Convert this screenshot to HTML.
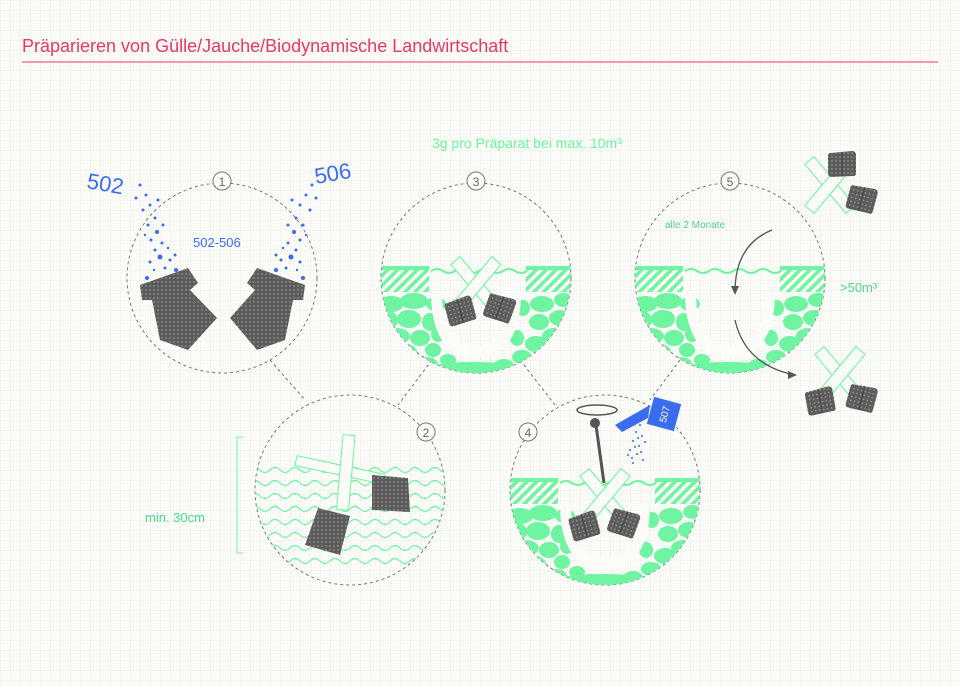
<!DOCTYPE html>
<html><head><meta charset="utf-8"><style>
html,body{margin:0;padding:0;background:#fbfbf7;}
svg{display:block;font-family:"Liberation Sans",sans-serif;}
</style></head><body>
<svg width="960" height="686" viewBox="0 0 960 686" xmlns="http://www.w3.org/2000/svg">
<defs>
<pattern id="grid" width="10" height="10" patternUnits="userSpaceOnUse">
<path d="M10 0H0V10" fill="none" stroke="#ecefe6" stroke-width="1"/>
</pattern>
<pattern id="hatch" width="7" height="7" patternUnits="userSpaceOnUse" patternTransform="rotate(45)">
<rect width="3.5" height="7" fill="#6ff5a2"/>
</pattern>
<pattern id="mesh" width="4" height="4" patternUnits="userSpaceOnUse">
<rect width="4" height="4" fill="#5c5c5c"/><rect x="1.3" y="1.3" width="1.4" height="1.4" fill="#9a9a9a"/>
</pattern>
<clipPath id="cc"><circle cx="0" cy="0" r="95"/></clipPath>
<g id="soil">
<g clip-path="url(#cc)">
<rect x="-95" y="-12" width="48" height="4" fill="#6ff5a2"/>
<rect x="-95" y="-8" width="48" height="22" fill="url(#hatch)"/>
<rect x="50" y="-12" width="45" height="4" fill="#6ff5a2"/>
<rect x="50" y="-8" width="45" height="22" fill="url(#hatch)"/>
<path d="M-45,-7 q6,-4 12,0 t12,0 t12,0 t12,0 t12,0 t12,0 t12,0 t12,0" fill="none" stroke="#6ff5a2" stroke-width="2"/>
<g fill="#6ff5a2">
<ellipse cx="-85" cy="26" rx="13" ry="8"/><ellipse cx="-62" cy="23" rx="14" ry="8"/><ellipse cx="-40" cy="26" rx="10" ry="7"/>
<ellipse cx="-88" cy="42" rx="10" ry="9"/><ellipse cx="-67" cy="41" rx="12" ry="9"/><ellipse cx="-46" cy="44" rx="8" ry="9"/>
<ellipse cx="-80" cy="58" rx="14" ry="8"/><ellipse cx="-56" cy="60" rx="10" ry="8"/><ellipse cx="-70" cy="74" rx="11" ry="8"/>
<ellipse cx="-43" cy="72" rx="8" ry="7"/><ellipse cx="-50" cy="86" rx="12" ry="7"/><ellipse cx="-28" cy="82" rx="8" ry="6"/>
<ellipse cx="-14" cy="90" rx="10" ry="6"/><ellipse cx="8" cy="91" rx="11" ry="6"/><ellipse cx="28" cy="88" rx="10" ry="7"/>
<ellipse cx="46" cy="79" rx="10" ry="7"/><ellipse cx="60" cy="66" rx="11" ry="8"/><ellipse cx="78" cy="58" rx="12" ry="8"/>
<ellipse cx="63" cy="44" rx="10" ry="8"/><ellipse cx="84" cy="40" rx="11" ry="8"/><ellipse cx="66" cy="26" rx="12" ry="8"/>
<ellipse cx="88" cy="22" rx="10" ry="7"/><ellipse cx="47" cy="30" rx="7" ry="8"/><ellipse cx="41" cy="60" rx="7" ry="8"/>
<ellipse cx="-38" cy="56" rx="7" ry="8"/><ellipse cx="-90" cy="72" rx="10" ry="7"/>
</g>
<path d="M-45,14 Q-45,78 0,80 Q45,78 45,14 L34,14 Q34,68 0,68 Q-34,68 -34,14Z" fill="#fbfbf7"/>
<ellipse cx="0" cy="102" rx="75" ry="18" fill="#6ff5a2"/>
</g>
</g>
<g id="stakes" fill="none" stroke="#6ff5a2" stroke-width="1">
<rect x="-6" y="-32" width="12" height="64" transform="rotate(-40)" fill="#fbfbf7"/>
<rect x="-6" y="-32" width="12" height="64" transform="rotate(40)" fill="#fbfbf7"/>
</g>
<g id="bag"><path d="M-12,-10 L10,-12 Q14,-12 14,-8 L14,10 Q14,14 10,13 L-10,14 Q-14,14 -14,10 L-14,-6 Q-14,-10 -12,-10Z" fill="url(#mesh)"/><line x1="0" y1="-11" x2="0" y2="13" stroke="#444" stroke-width="1"/></g>
</defs>
<rect width="960" height="686" fill="url(#grid)"/>

<text x="22" y="52" font-size="18" fill="#e8386a">Präparieren von Gülle/Jauche/Biodynamische Landwirtschaft</text>
<line x1="22" y1="62" x2="938" y2="62" stroke="#e8386a" stroke-width="1"/>
<text x="432" y="148" font-size="14" fill="#6ff5a2">3g pro Präparat bei max. 10m³</text>

<g stroke="#777" stroke-dasharray="3,3" fill="none">
<line x1="270" y1="360" x2="305" y2="400"/>
<line x1="432" y1="360" x2="398" y2="405"/>
<line x1="520" y1="360" x2="555" y2="405"/>
<line x1="680" y1="360" x2="650" y2="400"/>
</g>

<!-- circle 1 -->
<circle cx="222" cy="278" r="95" fill="none" stroke="#777" stroke-dasharray="3,3"/>
<g fill="#3a6cf0">
<text x="86" y="188" font-size="22" transform="rotate(10 86 188)">502</text>
<text x="316" y="184" font-size="22" transform="rotate(-10 316 184)">506</text>
<text x="193" y="247" font-size="13">502-506</text>
<g>
<circle cx="140" cy="185" r="1.5"/><circle cx="146" cy="195" r="1.5"/><circle cx="150" cy="205" r="1.5"/><circle cx="143" cy="210" r="1.5"/><circle cx="155" cy="218" r="1.5"/><circle cx="148" cy="225" r="1.5"/><circle cx="157" cy="232" r="2"/><circle cx="151" cy="240" r="1.5"/><circle cx="162" cy="243" r="1.5"/><circle cx="155" cy="250" r="1.5"/><circle cx="160" cy="257" r="2.5"/><circle cx="170" cy="260" r="1.5"/><circle cx="150" cy="262" r="1.5"/><circle cx="175" cy="255" r="1.5"/><circle cx="165" cy="268" r="1.5"/><circle cx="147" cy="278" r="2"/><circle cx="176" cy="270" r="2"/><circle cx="136" cy="198" r="1.5"/><circle cx="158" cy="200" r="1.5"/><circle cx="163" cy="225" r="1.5"/><circle cx="145" cy="235" r="1.2"/><circle cx="168" cy="248" r="1.2"/><circle cx="154" cy="270" r="1.2"/>
<circle cx="312" cy="185" r="1.5"/><circle cx="306" cy="195" r="1.5"/><circle cx="300" cy="205" r="1.5"/><circle cx="310" cy="210" r="1.5"/><circle cx="296" cy="218" r="1.5"/><circle cx="303" cy="225" r="1.5"/><circle cx="294" cy="232" r="2"/><circle cx="300" cy="240" r="1.5"/><circle cx="288" cy="243" r="1.5"/><circle cx="296" cy="250" r="1.5"/><circle cx="291" cy="257" r="2.5"/><circle cx="281" cy="260" r="1.5"/><circle cx="300" cy="262" r="1.5"/><circle cx="276" cy="255" r="1.5"/><circle cx="286" cy="268" r="1.5"/><circle cx="303" cy="278" r="2"/><circle cx="276" cy="270" r="2"/><circle cx="316" cy="198" r="1.5"/><circle cx="292" cy="200" r="1.5"/><circle cx="288" cy="225" r="1.5"/><circle cx="306" cy="235" r="1.2"/><circle cx="283" cy="248" r="1.2"/><circle cx="297" cy="270" r="1.2"/>
</g></g>
<path d="M140,285 L188,268 L198,283 L190,290 L217,318 L188,350 L160,340 L152,300 L142,300 Z" fill="url(#mesh)"/>
<path d="M305,285 L257,268 L247,283 L255,290 L230,318 L257,350 L285,340 L293,300 L303,300 Z" fill="url(#mesh)"/>
<circle cx="222" cy="181" r="9" fill="#fbfbf7" stroke="#777"/><text x="222" y="186" font-size="12" text-anchor="middle" fill="#666">1</text>

<!-- circle 3 -->
<circle cx="476" cy="278" r="95" fill="none" stroke="#777" stroke-dasharray="3,3"/>
<use href="#soil" x="476" y="278"/>
<use href="#stakes" x="476" y="285"/>
<use href="#bag" x="460" y="310" transform="rotate(-15 460 310)"/>
<use href="#bag" x="500" y="307" transform="rotate(20 500 307)"/>
<circle cx="476" cy="181" r="9" fill="#fbfbf7" stroke="#777"/><text x="476" y="186" font-size="12" text-anchor="middle" fill="#666">3</text>

<!-- circle 5 -->
<circle cx="730" cy="278" r="95" fill="none" stroke="#777" stroke-dasharray="3,3"/>
<use href="#soil" x="730" y="278"/>
<circle cx="730" cy="181" r="9" fill="#fbfbf7" stroke="#777"/><text x="730" y="186" font-size="12" text-anchor="middle" fill="#666">5</text>
<text x="665" y="228" font-size="10" fill="#4fd88a">alle 2 Monate</text>
<text x="840" y="292" font-size="13" fill="#4fd88a">&gt;50m³</text>
<path d="M772,230 Q735,245 735,292" fill="none" stroke="#555" stroke-width="1.3"/><path d="M731,286 L735,295 L739,286" fill="#555"/>
<path d="M735,320 Q745,365 795,375" fill="none" stroke="#555" stroke-width="1.3"/><path d="M788,371 L797,375 L788,379" fill="#555"/>
<use href="#stakes" x="830" y="185"/>
<use href="#bag" x="842" y="163"/><use href="#bag" x="862" y="198" transform="rotate(15 862 198)"/>
<use href="#stakes" x="840" y="375"/>
<use href="#bag" x="820" y="400" transform="rotate(-10 820 400)"/><use href="#bag" x="862" y="397" transform="rotate(15 862 397)"/>

<!-- circle 2 -->
<clipPath id="c2"><circle cx="350" cy="490" r="95"/></clipPath>
<circle cx="350" cy="490" r="95" fill="none" stroke="#777" stroke-dasharray="3,3"/>
<g clip-path="url(#c2)" fill="none" stroke="#6ff5a2" stroke-width="1.2">
<path id="wv" d="M250,470 q5,-5 10,0 t10,0 t10,0 t10,0 t10,0 t10,0 t10,0 t10,0 t10,0 t10,0 t10,0 t10,0 t10,0 t10,0 t10,0 t10,0 t10,0 t10,0 t10,0 t10,0"/>
<use href="#wv" y="13"/><use href="#wv" y="26"/><use href="#wv" y="39"/><use href="#wv" y="52"/><use href="#wv" y="65"/><use href="#wv" y="78"/><use href="#wv" y="91"/>
</g>
<g fill="#fbfbf7" stroke="#6ff5a2"><rect x="295" y="465" width="90" height="10" transform="rotate(12 340 470)"/><rect x="340" y="435" width="12" height="75" transform="rotate(5 346 470)"/></g>
<path d="M372,475 L408,478 L410,512 L372,510Z" fill="url(#mesh)"/>
<path d="M318,508 L350,516 L340,555 L305,545Z" fill="url(#mesh)"/>
<circle cx="426" cy="432" r="9" fill="#fbfbf7" stroke="#777"/><text x="426" y="437" font-size="12" text-anchor="middle" fill="#666">2</text>
<path d="M243,437 H237 V553 H243" fill="none" stroke="#6ff5a2"/>
<text x="145" y="522" font-size="13" fill="#4fd88a">min. 30cm</text>

<!-- circle 4 -->
<circle cx="605" cy="490" r="95" fill="none" stroke="#777" stroke-dasharray="3,3"/>
<use href="#soil" x="605" y="490"/>
<use href="#stakes" x="605" y="497"/>
<use href="#bag" x="584" y="525" transform="rotate(-15 584 525)"/>
<use href="#bag" x="624" y="522" transform="rotate(20 624 522)"/>
<line x1="596" y1="425" x2="604" y2="483" stroke="#555" stroke-width="3"/>
<circle cx="595" cy="423" r="5" fill="#555"/>
<ellipse cx="597" cy="410" rx="20" ry="5" fill="none" stroke="#555" stroke-width="1.5"/>
<circle cx="528" cy="432" r="9" fill="#fbfbf7" stroke="#777"/><text x="528" y="437" font-size="12" text-anchor="middle" fill="#666">4</text>
<rect x="650" y="400" width="28" height="28" fill="#3a6cf0" transform="rotate(15 664 414)"/>
<text x="664" y="418" font-size="10" fill="#fff" text-anchor="middle" transform="rotate(-75 664 414)">507</text>
<path d="M615,425 L650,405 L648,418 L622,432Z" fill="#3a6cf0"/>
<g fill="#3a6cf0"><circle cx="640" cy="425" r="1"/><circle cx="636" cy="432" r="1"/><circle cx="642" cy="436" r="1"/><circle cx="633" cy="441" r="1"/><circle cx="639" cy="446" r="1"/><circle cx="630" cy="450" r="1"/><circle cx="637" cy="454" r="1"/><circle cx="643" cy="460" r="1"/><circle cx="632" cy="458" r="1"/><circle cx="645" cy="442" r="1"/><circle cx="635" cy="447" r="1"/><circle cx="641" cy="452" r="1"/><circle cx="628" cy="455" r="1"/><circle cx="638" cy="438" r="1"/><circle cx="633" cy="463" r="1"/></g>
</svg>
</body></html>
